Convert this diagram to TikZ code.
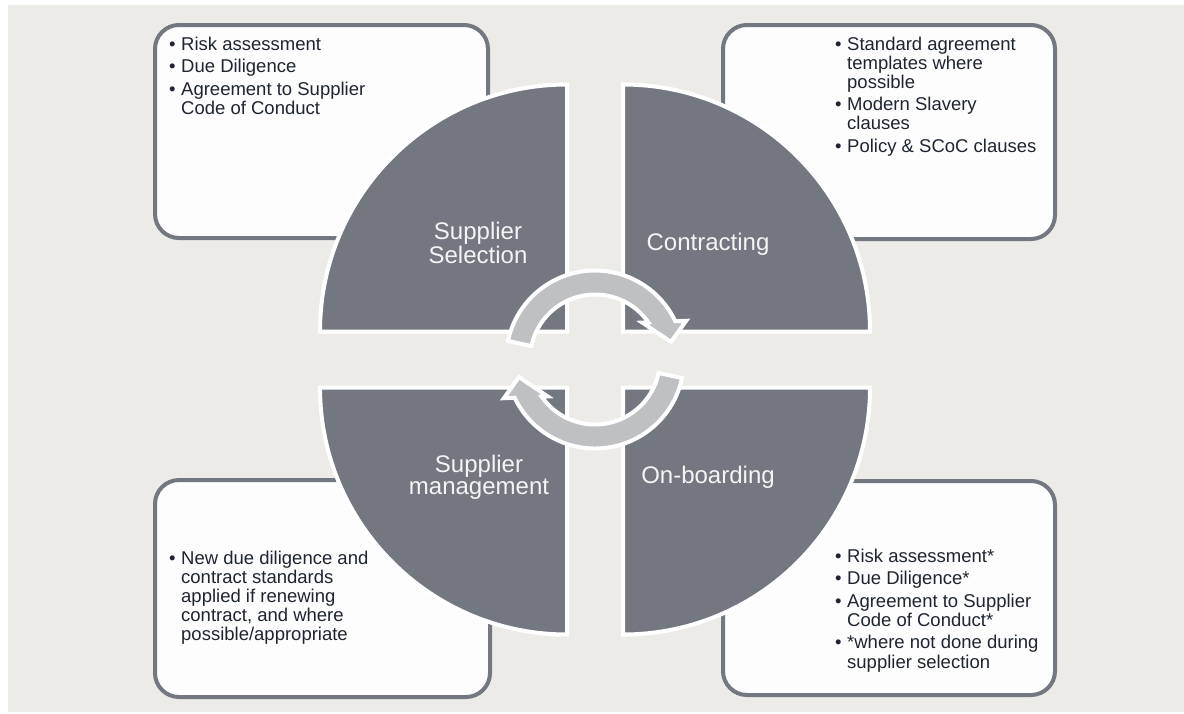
\documentclass[tikz,border=0pt]{standalone}
\usepackage{fontspec}
\setmainfont{Liberation Sans}
\definecolor{bgc}{HTML}{ECEBE7}
\definecolor{secc}{HTML}{737880}
\definecolor{boxf}{HTML}{FDFDFD}
\definecolor{arrc}{HTML}{BFC0C2}
\definecolor{txtc}{HTML}{1E2530}
\definecolor{labc}{HTML}{F4F4F4}
\newcommand{\mybul}{\makebox[12pt][l]{•}}
\newcommand{\myind}{\hspace*{12pt}}
\begin{document}
\begin{tikzpicture}[x=1pt,y=-1pt,
  infobox/.style={draw=secc, line width=4pt, fill=boxf, rounded corners=24pt},
  sector/.style={fill=secc, draw=white, line width=4pt, line join=miter},
  cyclearrow/.style={fill=arrc, draw=white, line width=4pt, line join=miter},
  bullettext/.style={anchor=base west, inner sep=0pt, text=txtc, font=\fontsize{18.5}{19}\selectfont},
  seclabel/.style={anchor=base, inner sep=0pt, text=labc, font=\fontsize{24}{21}\selectfont}]
\useasboundingbox (0,0) rectangle (1184,713);
\fill[white] (0,0) rectangle (1184,713);
\fill[bgc] (8,5) rectangle (1184,712);

% information boxes
\draw[infobox] (155,25) rectangle (488,238);
\draw[infobox] (723,25) rectangle (1055,239);
\draw[infobox] (155,480) rectangle (490,697);
\draw[infobox] (723,481) rectangle (1055,695);

% quarter sectors
\path[sector] (567,331.5) -- ++(-247,0) arc[start angle=180, end angle=270, radius=247] -- cycle;
\path[sector] (623,331.5) -- ++(0,-247) arc[start angle=270, end angle=360, radius=247] -- cycle;
\path[sector] (567,387.5) -- ++(-247,0) arc[start angle=180, end angle=90, radius=247] -- cycle;
\path[sector] (623,387.5) -- ++(247,0) arc[start angle=0, end angle=90, radius=247] -- cycle;

% cycle arrows
\begin{scope}[shift={(595,359.5)}]
\path[cyclearrow] (-168:89) arc[start angle=-168, end angle=-25.46, radius=89]
  -- (-23:99) -- (-13:78) -- (-38:60) -- (-34.9:65)
  arc[start angle=-34.9, end angle=-168, radius=65] -- cycle;
\path[cyclearrow, rotate=180] (-168:89) arc[start angle=-168, end angle=-25.46, radius=89]
  -- (-23:99) -- (-13:78) -- (-38:60) -- (-34.9:65)
  arc[start angle=-34.9, end angle=-168, radius=65] -- cycle;
\end{scope}

% sector labels
\node[seclabel] (sellab) at (478,239.5) {\begin{tabular}[t]{@{}c@{}}Supplier\\Selection\end{tabular}};
\node[seclabel] (conlab) at (708,250.5) {Contracting};
\node[seclabel] (manlab) at (479,472.5) {\begin{tabular}[t]{@{}c@{}}Supplier\\management\end{tabular}};
\node[seclabel] (onblab) at (708,483) {On-boarding};

% box texts
\node[bullettext] (seltext) at (169,50) {\begin{tabular}[t]{@{}l@{}}\mybul Risk assessment\\[3.5pt]
  \mybul Due Diligence\\[3.5pt]
  \mybul Agreement to Supplier\\
  \myind Code of Conduct\end{tabular}};
\node[bullettext] (context) at (835,50) {\begin{tabular}[t]{@{}l@{}}\mybul Standard agreement\\
  \myind templates where\\
  \myind possible\\[3.5pt]
  \mybul Modern Slavery\\
  \myind clauses\\[3.5pt]
  \mybul Policy \& SCoC clauses\end{tabular}};
\node[bullettext] (mantext) at (169,564) {\begin{tabular}[t]{@{}l@{}}\mybul New due diligence and\\
  \myind contract standards\\
  \myind applied if renewing\\
  \myind contract, and where\\
  \myind possible/appropriate\end{tabular}};
\node[bullettext] (onbtext) at (835,562) {\begin{tabular}[t]{@{}l@{}}\mybul Risk assessment*\\[3.5pt]
  \mybul Due Diligence*\\[3.5pt]
  \mybul Agreement to Supplier\\
  \myind Code of Conduct*\\[3.5pt]
  \mybul *where not done during\\
  \myind supplier selection\end{tabular}};
\end{tikzpicture}
\end{document}
